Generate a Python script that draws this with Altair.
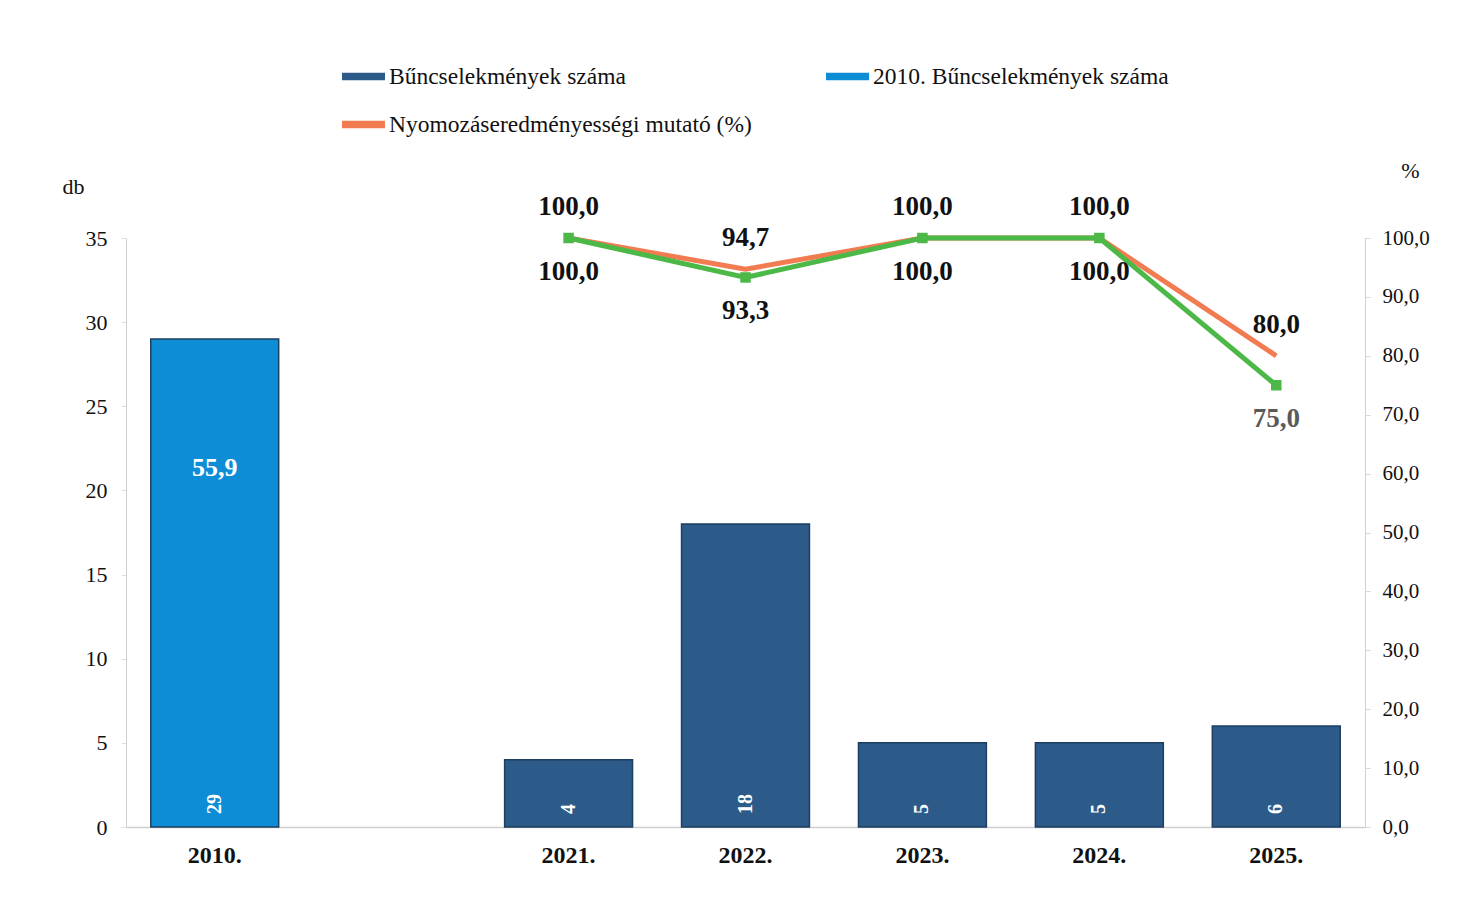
import altair as alt
import pandas as pd

# ---- data ----
years = ["2010.", " ", "2021.", "2022.", "2023.", "2024.", "2025."]

bar_years = ["2010.", "2021.", "2022.", "2023.", "2024.", "2025."]
bar_values = [29, 4, 18, 5, 5, 6]
bar_series = ["2010. Bűncselekmények száma", "Bűncselekmények száma", "Bűncselekmények száma",
              "Bűncselekmények száma", "Bűncselekmények száma", "Bűncselekmények száma"]

line_years = ["2021.", "2022.", "2023.", "2024.", "2025."]
orange_values = [100.0, 94.7, 100.0, 100.0, 80.0]
green_values = [100.0, 93.3, 100.0, 100.0, 75.0]

pct_2010_year = ["2010."]
pct_2010_value = [55.9]

legend_domain = ["Bűncselekmények száma", "Nyomozáseredményességi mutató (%)", "2010. Bűncselekmények száma"]
legend_colors = ["#2D5B89", "#F27C52", "#0E8DD7"]

FONT = "Liberation Serif"

df_bar = pd.DataFrame({"year": bar_years, "count": bar_values, "series": bar_series})
df_bar["zero"] = 0
df_line = pd.DataFrame({"year": line_years, "orange": orange_values, "green": green_values})
df_2010 = pd.DataFrame({"year": pct_2010_year, "pct": pct_2010_value})

x_scale = alt.Scale(domain=years, paddingInner=0.277, paddingOuter=0.14)
x_axis = alt.Axis(orient="bottom", title=None, labelAngle=0, labelFont=FONT, labelFontSize=24,
                  labelFontWeight="bold", labelColor="#111111", labelPadding=16,
                  ticks=False, grid=False, domainColor="#CFCFCF", domainWidth=1.5)


def X():
    return alt.X("year:N", sort=years, scale=x_scale, axis=x_axis)


left_scale = alt.Scale(domain=[0, 35])
left_axis = alt.Axis(values=[0, 5, 10, 15, 20, 25, 30, 35], title="db", titleAngle=0,
                     titleAlign="center", titleX=-53, titleY=-40, titleFont=FONT,
                     titleFontSize=22, titleFontWeight="normal", titleColor="#111111",
                     labelFont=FONT, labelFontSize=22, labelColor="#111111",
                     labelPadding=14, grid=False, domainColor="#D0D0D0",
                     tickColor="#E0E0E0", tickSize=5)

right_scale = alt.Scale(domain=[0, 100])
right_axis = alt.Axis(orient="right", values=[0, 10, 20, 30, 40, 50, 60, 70, 80, 90, 100],
                      labelExpr="replace(format(datum.value, '.1f'), '.', ',')",
                      title="%", titleAngle=0, titleAlign="center", titleX=45, titleY=-56,
                      titleFont=FONT, titleFontSize=22, titleFontWeight="normal",
                      titleColor="#111111", labelFont=FONT, labelFontSize=21,
                      labelColor="#111111", labelPadding=12, grid=False,
                      domainColor="#D0D0D0", tickColor="#D8D8D8", tickSize=5)

bars = alt.Chart(df_bar).mark_bar(stroke="#1E3F60", strokeWidth=1.5).encode(
    x=X(),
    y=alt.Y("count:Q", scale=left_scale, axis=left_axis),
    color=alt.Color("series:N",
                    scale=alt.Scale(domain=legend_domain, range=legend_colors),
                    legend=alt.Legend(title=None, orient="none", legendX=216, legendY=-183,
                                      columns=2, columnPadding=74, rowPadding=15,
                                      symbolType="M-1,-0.18L1,-0.18L1,0.18L-1,0.18Z",
                                      symbolSize=1849, symbolStrokeWidth=0, labelOffset=4,
                                      labelFont=FONT, labelFontSize=23.5, labelColor="#111111",
                                      labelLimit=0)),
)

bar_text = alt.Chart(df_bar).mark_text(
    angle=270, align="left", baseline="middle", dx=13, font=FONT, fontSize=20,
    fontWeight="bold", color="white"
).encode(
    x=X(),
    y=alt.Y("zero:Q", scale=left_scale, axis=left_axis),
    text=alt.Text("count:Q"),
)

left = alt.layer(bars, bar_text)

orange_line = alt.Chart(df_line).mark_line(color="#F27C52", strokeWidth=5).encode(
    x=X(), y=alt.Y("orange:Q", scale=right_scale, axis=right_axis))

green_line = alt.Chart(df_line).mark_line(
    color="#4CB847", strokeWidth=5,
    point=alt.OverlayMarkDef(shape="square", size=110, filled=True, color="#4CB847")
).encode(
    x=X(), y=alt.Y("green:Q", scale=right_scale, axis=right_axis))

orange_labels = alt.Chart(df_line).mark_text(
    dy=-31, font=FONT, fontSize=27, fontWeight="bold", color="#111111"
).encode(
    x=X(),
    y=alt.Y("orange:Q", scale=right_scale, axis=right_axis),
    text="lab:N",
).transform_calculate(lab="replace(format(datum.orange, '.1f'), '.', ',')")

green_labels = alt.Chart(df_line).mark_text(
    dy=34, font=FONT, fontSize=27, fontWeight="bold"
).encode(
    x=X(),
    y=alt.Y("green:Q", scale=right_scale, axis=right_axis),
    text="lab:N",
    color=alt.condition("datum.year == '2025.'", alt.value("#5A5A5A"), alt.value("#111111")),
).transform_calculate(lab="replace(format(datum.green, '.1f'), '.', ',')")

label_2010 = alt.Chart(df_2010).mark_text(
    dy=-30, font=FONT, fontSize=26, fontWeight="bold", color="white"
).encode(
    x=X(),
    y=alt.Y("pct:Q", scale=right_scale, axis=right_axis),
    text="lab:N",
).transform_calculate(lab="replace(format(datum.pct, '.1f'), '.', ',')")

right = alt.layer(orange_line, green_line, orange_labels, green_labels, label_2010)

chart = alt.layer(left, right).resolve_scale(y="independent").properties(
    width=1239, height=589,
    background="white",
    padding={"left": 54, "top": 47, "right": 5, "bottom": 5},
).configure_view(stroke="transparent", strokeWidth=0).configure_axis(grid=False)

chart.save("out.html", embed_options={"renderer": "svg", "actions": False})
